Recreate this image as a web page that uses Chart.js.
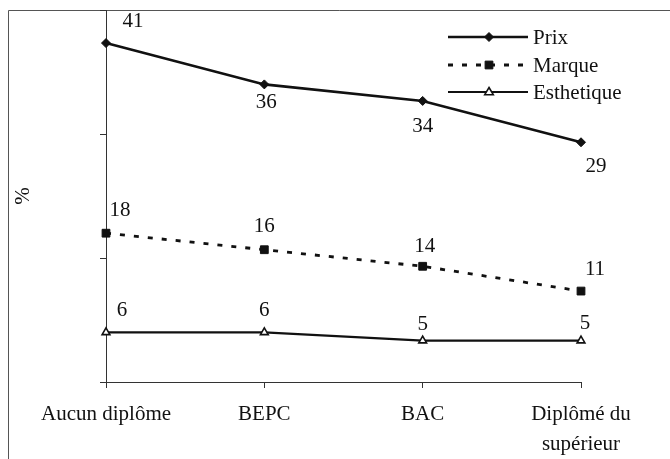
<!DOCTYPE html>
<html>
<head>
<meta charset="utf-8">
<script src="https://cdn.jsdelivr.net/npm/chart.js@4/dist/chart.umd.min.js"></script>
<style>
  html, body { margin: 0; padding: 0; background: #fff; }
  #c { display: block; }
</style>
</head>
<body>
<canvas id="c" width="670" height="459"></canvas>
<script>
// Share of respondents (%) by diploma level
const categories = ['Aucun diplôme', 'BEPC', 'BAC', ['Diplômé du', 'supérieur']];
const prix = [41, 36, 34, 29];
const marque = [18, 16, 14, 11];
const esthetique = [6, 6, 5, 5];
const seriesNames = ['Prix', 'Marque', 'Esthetique'];
const yMin = 0, yMax = 45, yStep = 15;

// Where each value label sits relative to its point (dx, dy in px)
const labelOffsets = [
  [[27, -22], [2, 18], [0, 26], [15, 24]],
  [[14, -23], [0, -23], [2, -20], [14, -22]],
  [[16, -22], [0, -22], [0, -16], [4, -17]]
];

const FONT = 'Liberation Serif, Times New Roman, serif';
const FONT_SIZE = 21;
const INK = '#111';

function marker(ctx, style, x, y, r, fill, stroke, lw) {
  ctx.save();
  ctx.beginPath();
  if (style === 'rectRot') {
    ctx.moveTo(x, y - r); ctx.lineTo(x + r, y); ctx.lineTo(x, y + r); ctx.lineTo(x - r, y);
  } else if (style === 'rect') {
    const s = r * Math.SQRT1_2;
    ctx.rect(x - s, y - s, 2 * s, 2 * s);
  } else {
    ctx.moveTo(x, y - r); ctx.lineTo(x + r * 0.95, y + r * 0.6); ctx.lineTo(x - r * 0.95, y + r * 0.6);
  }
  ctx.closePath();
  ctx.setLineDash([]);
  ctx.fillStyle = fill; ctx.fill();
  ctx.lineWidth = lw; ctx.strokeStyle = stroke; ctx.stroke();
  ctx.restore();
}

const framePlugin = {
  id: 'frame',
  beforeDraw(chart) {
    const ctx = chart.ctx;
    ctx.save();
    ctx.strokeStyle = '#555';
    ctx.lineWidth = 1;
    ctx.beginPath();
    ctx.moveTo(8.5, 470); ctx.lineTo(8.5, 10.5); ctx.lineTo(680, 10.5);
    ctx.stroke();
    ctx.restore();
  }
};

const valueLabels = {
  id: 'valueLabels',
  afterDatasetsDraw(chart) {
    const ctx = chart.ctx;
    ctx.save();
    ctx.font = FONT_SIZE + 'px ' + FONT;
    ctx.fillStyle = INK;
    ctx.textAlign = 'center';
    ctx.textBaseline = 'middle';
    chart.data.datasets.forEach((ds, i) => {
      chart.getDatasetMeta(i).data.forEach((pt, j) => {
        const [dx, dy] = labelOffsets[i][j];
        ctx.fillText(String(ds.data[j]), pt.x + dx, pt.y + dy);
      });
    });
    ctx.restore();
  }
};

const lineLegend = {
  id: 'lineLegend',
  afterDraw(chart) {
    const ctx = chart.ctx;
    const x0 = 448, x1 = 528, mx = 489, tx = 533;
    const rows = [37, 65, 92];
    ctx.save();
    chart.data.datasets.forEach((ds, i) => {
      const y = rows[i];
      ctx.beginPath();
      ctx.setLineDash(ds.borderDash || []);
      ctx.lineWidth = ds.borderWidth;
      ctx.strokeStyle = ds.borderColor;
      ctx.moveTo(x0, y); ctx.lineTo(x1, y);
      ctx.stroke();
      marker(ctx, ds.pointStyle, mx, y, ds.pointRadius, ds.pointBackgroundColor, ds.pointBorderColor, ds.pointBorderWidth);
      ctx.setLineDash([]);
      ctx.font = FONT_SIZE + 'px ' + FONT;
      ctx.fillStyle = INK;
      ctx.textAlign = 'left';
      ctx.textBaseline = 'middle';
      ctx.fillText(ds.label, tx, y + 1);
    });
    ctx.restore();
  }
};

new Chart(document.getElementById('c'), {
  type: 'line',
  data: {
    labels: categories,
    datasets: [
      {
        label: seriesNames[0], data: prix,
        borderColor: INK, borderWidth: 2.6, tension: 0,
        pointStyle: 'rectRot', pointRadius: 4.5,
        pointBackgroundColor: INK, pointBorderColor: INK, pointBorderWidth: 1
      },
      {
        label: seriesNames[1], data: marque,
        borderColor: INK, borderWidth: 2.8, borderDash: [5, 9], tension: 0,
        pointStyle: 'rect', pointRadius: 5.5,
        pointBackgroundColor: INK, pointBorderColor: INK, pointBorderWidth: 1
      },
      {
        label: seriesNames[2], data: esthetique,
        borderColor: INK, borderWidth: 2.2, tension: 0,
        pointStyle: 'triangle', pointRadius: 4.5,
        pointBackgroundColor: '#fff', pointBorderColor: INK, pointBorderWidth: 1.6
      }
    ]
  },
  options: {
    responsive: false,
    animation: false,
    devicePixelRatio: 1,
    layout: { autoPadding: false, padding: { left: 0, top: 10, right: 89, bottom: 0 } },
    plugins: { legend: { display: false }, tooltip: { enabled: false } },
    scales: {
      x: {
        offset: false,
        grid: { drawOnChartArea: false, drawTicks: true, tickLength: 6, color: '#333' },
        border: { display: true, color: '#333', width: 1 },
        ticks: {
          autoSkip: false, maxRotation: 0, minRotation: 0, padding: 11,
          color: INK, font: { family: FONT, size: FONT_SIZE, lineHeight: 1.45 }
        },
        afterFit(scale) { scale.height = 77; }
      },
      y: {
        min: yMin, max: yMax,
        grid: { drawOnChartArea: false, drawTicks: true, tickLength: 6, color: '#333' },
        border: { display: true, color: '#333', width: 1 },
        ticks: { display: false, stepSize: yStep },
        title: {
          display: true, text: '%', color: INK,
          font: { family: FONT, size: FONT_SIZE }, padding: { top: 11, bottom: 0 }
        },
        afterFit(scale) { scale.width = 106; }
      }
    }
  },
  plugins: [framePlugin, valueLabels, lineLegend]
});
</script>
</body>
</html>
